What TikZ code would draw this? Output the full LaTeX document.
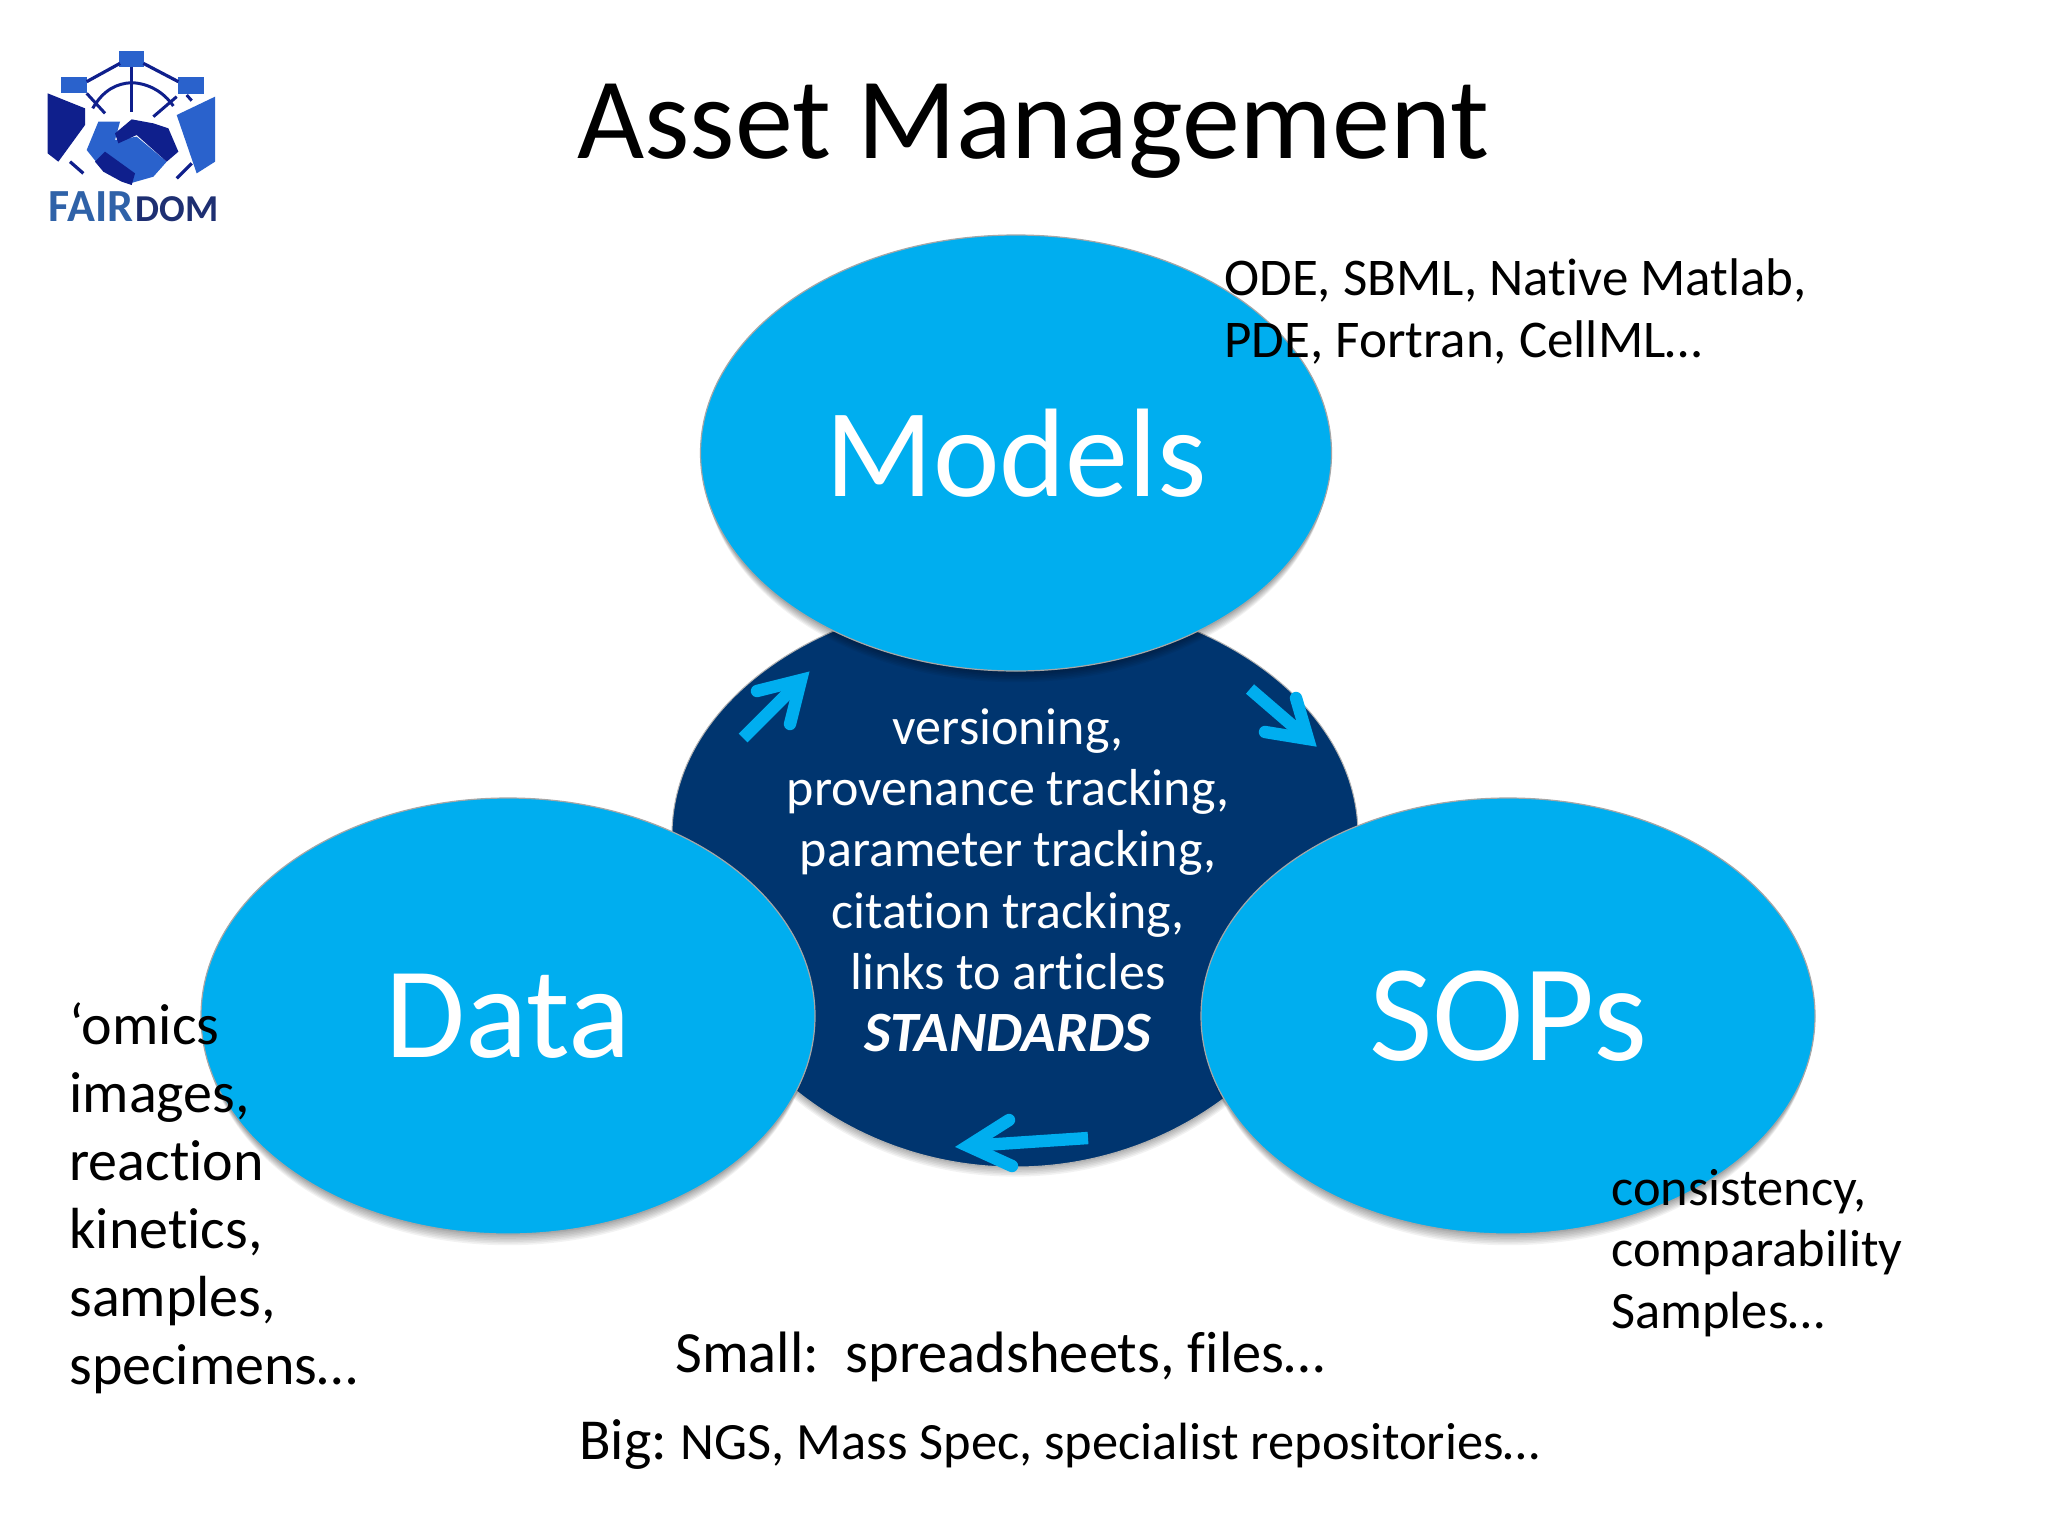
\documentclass[tikz,border=0pt]{standalone}
\usepackage{fontspec}
\setmainfont{Carlito}[Ligatures=NoCommon]
\usetikzlibrary{shapes.geometric}
\definecolor{cyanblob}{HTML}{00AEEF}
\definecolor{navyblob}{HTML}{00356F}
\definecolor{logonavy}{HTML}{0F1F8C}
\definecolor{logomid}{HTML}{2A62CC}
\definecolor{logofair}{HTML}{2F62A8}
\definecolor{logodom}{HTML}{1E2F72}
\newcommand{\fsz}[2]{\fontsize{#1pt}{#2pt}\selectfont}
\newcommand{\softshadow}[4]{%
  \foreach \i in {1,...,7}{\fill[black,opacity=0.05] (#1,#2+1.6*\i) ellipse [x radius=#3*0.25pt-\i*0.25pt, y radius=#4*0.25pt];}}
\tikzset{
  blob/.style={ellipse,fill=cyanblob,draw=black!35,line width=0.6pt,inner sep=0pt,text=white},
  note/.style={anchor=base west,align=left,text=black,inner sep=0pt},
  cyc/.style={draw=cyanblob,line width=6.2pt,line cap=butt},
  cychead/.style={draw=cyanblob,line width=6.2pt,line cap=round,line join=miter,miter limit=10},
}
\begin{document}
\begin{tikzpicture}[x=0.5pt,y=-0.5pt]
\useasboundingbox (0,0) rectangle (2048,1536);
\fill[white] (0,0) rectangle (2048,1536);
% central shape
\foreach \i in {1,...,6}{\fill[black,opacity=0.05] (672,835+\i*1.6) .. controls (672,1018+\i*1.6) and (825,1167+\i*1.6) .. (1015,1167+\i*1.6) .. controls (1205,1167+\i*1.6) and (1358,1018+\i*1.6) .. (1358,835+\i*1.6) -- cycle;}
\path[fill=navyblob,draw=black!30,line width=0.5pt] (672,835) .. controls (672,702) and (825,595) .. (1015,595) .. controls (1205,595) and (1358,702) .. (1358,835) .. controls (1358,1018) and (1205,1167) .. (1015,1167) .. controls (825,1167) and (672,1018) .. (672,835) -- cycle;
% shadows
\softshadow{1016}{453}{631}{436}
\softshadow{508}{1016}{614}{436}
\softshadow{1508}{1016}{614}{436}
% main ellipses
\node[blob,minimum width=315.5pt,minimum height=218pt,font=\fsz{63}{65}] (models) at (1016,453) {Models};
\node[blob,minimum width=307pt,minimum height=218pt,font=\fsz{65}{67}] (data) at (508,1016) {Data};
\node[blob,minimum width=307pt,minimum height=218pt,font=\fsz{69}{71}] (sops) at (1508,1016) {SOPs};
% centre text
\node[anchor=base,align=center,text=white,inner sep=0pt,font=\fsz{26}{30.7}] (centre) at (1008,1051)
 {versioning,\\provenance tracking,\\parameter tracking,\\citation tracking,\\links to articles\\{\fsz{28.5}{30.7}\textbf{\textit{STANDARDS}}}};
% cycle arrows
\coordinate (a1t) at (743,738); \coordinate (a1h) at (801,680);
\coordinate (a1b) at (757,691); \coordinate (a1c) at (790,724);
\draw[cyc] (a1t) -- (a1h);
\draw[cychead] (a1b) -- (a1h) -- (a1c);
\coordinate (a2t) at (1250,689); \coordinate (a2h) at (1308,739);
\coordinate (a2b) at (1296,698); \coordinate (a2c) at (1265,732);
\draw[cyc] (a2t) -- (a2h);
\draw[cychead] (a2b) -- (a2h) -- (a2c);
\coordinate (a3t) at (1088,1138); \coordinate (a3h) at (968,1146);
\coordinate (a3b) at (1009,1120); \coordinate (a3c) at (1012,1166);
\draw[cyc] (a3t) -- (a3h);
\draw[cychead] (a3b) -- (a3h) -- (a3c);
% title
\node[anchor=base,inner sep=0pt,font=\fsz{58}{60}] (title) at (1033,158) {Asset Management};
% notes
\node[note,font=\fsz{26.5}{30.7}] (n1) at (1224,357) {ODE, SBML, Native Matlab,\\PDE, Fortran, CellML\dots};
\node[note,font=\fsz{29}{34}] (n2) at (69,1384) {`omics\\images,\\reaction\\kinetics,\\samples,\\specimens\dots};
\node[note,font=\fsz{26.2}{30.7}] (n3) at (1611,1328) {consistency,\\comparability\\Samples\dots};
\node[note,font=\fsz{29.2}{34}] (n4) at (675,1372) {Small:\ \ spreadsheets, files\dots};
\node[note,font=\fsz{26.2}{30}] (n5) at (579,1459) {{\fsz{29}{30}Big:}\kern-1pt{} NGS, Mass Spec, specialist repositories\dots};
% logo
\begin{scope}[shift={(20,30)},x=0.1667pt,y=-0.1667pt]
 \fill[logomid] (298,63) rectangle (372,112);
 \fill[logomid] (123,141) rectangle (202,189);
 \fill[logomid] (473,141) rectangle (552,192);
 \draw[logonavy,line width=1.6pt] (300,100) -- (200,155);
 \draw[logonavy,line width=1.6pt] (370,100) -- (475,155);
 \draw[logonavy,line width=1.6pt] (335,110) -- (335,245);
 \draw[logonavy,line width=1.5pt] (218,235) .. controls (250,180) and (290,160) .. (335,158) .. controls (385,160) and (430,185) .. (460,228);
 \draw[logonavy,line width=1.5pt] (200,190) -- (255,250);
 \draw[logonavy,line width=1.5pt] (470,200) -- (400,260);
 \draw[logonavy,line width=1.5pt] (500,195) -- (515,212);
 \fill[logonavy] (83,190) -- (195,235) -- (195,285) -- (115,395) -- (83,370) -- cycle;
 \fill[logomid] (585,200) -- (470,255) -- (530,430) -- (585,395) -- cycle;
 \fill[logomid] (235,275) -- (300,275) -- (285,330) -- (350,320) -- (440,395) -- (400,440) -- (330,460) -- (240,410) -- (200,360) -- cycle;
 \fill[logonavy] (285,310) -- (335,268) -- (400,280) -- (445,295) -- (475,365) -- (440,395) -- (350,315) -- (295,340) -- cycle;
 \fill[logonavy] (225,395) -- (255,365) -- (345,430) -- (335,465) -- (305,455) -- (250,425) -- cycle;
 \draw[logonavy,line width=1.6pt] (150,395) -- (190,430);
 \draw[logonavy,line width=1.6pt] (515,400) -- (470,445);
 \node[anchor=base west,inner sep=0pt,text=logofair,font=\fsz{23}{23}\bfseries] (lf) at (85,575) {FAIR};
 \node[anchor=base west,inner sep=0pt,text=logodom,font=\fsz{19}{19}\bfseries] (ld) at (345,575) {DOM};
\end{scope}
\end{tikzpicture}
\end{document}
